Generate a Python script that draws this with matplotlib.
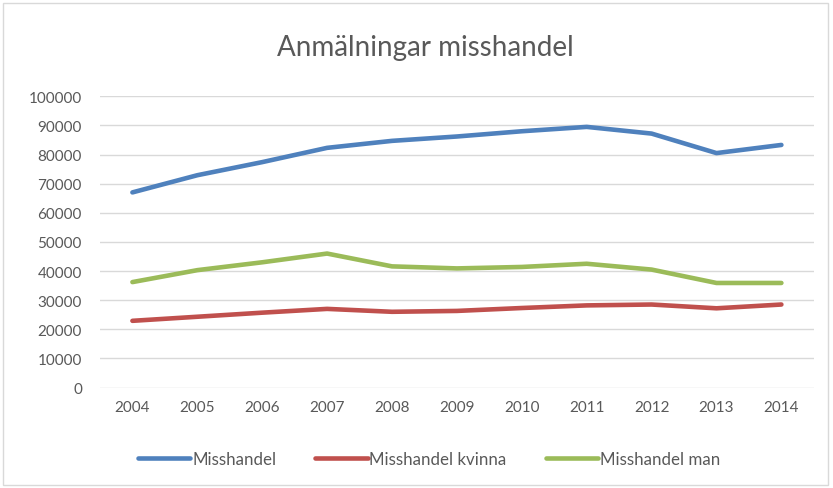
import matplotlib
matplotlib.use("Agg")
import matplotlib.pyplot as plt
from matplotlib.patches import Rectangle

years = [2004, 2005, 2006, 2007, 2008, 2009, 2010, 2011, 2012, 2013, 2014]
misshandel = [67000, 72900, 77400, 82300, 84700, 86200, 88000, 89500, 87200, 80500, 83300]
kvinna = [22900, 24300, 25700, 27000, 26000, 26300, 27300, 28200, 28500, 27200, 28500]
man = [36200, 40300, 43000, 46000, 41600, 40900, 41400, 42500, 40500, 35900, 35900]
yticks = list(range(0, 100001, 10000))

plt.rcParams['font.family'] = ['Lato', 'DejaVu Sans']

fig = plt.figure(figsize=(8.33, 4.89), dpi=100)
fig.patches.append(Rectangle((0.004, 0.006), 0.990, 0.986, transform=fig.transFigure,
                             fill=False, edgecolor='#D9D9D9', linewidth=1))
ax = fig.add_axes([0.12, 0.2055, 0.857, 0.5955])

lw = 3.3
ax.plot(years, misshandel, color='#4F81BD', lw=lw, solid_capstyle='round', label='Misshandel')
ax.plot(years, kvinna, color='#C0504D', lw=lw, solid_capstyle='round', label='Misshandel kvinna')
ax.plot(years, man, color='#9BBB59', lw=lw, solid_capstyle='round', label='Misshandel man')

ax.set_xlim(2003.5, 2014.5)
ax.set_ylim(0, 100000)
ax.set_yticks(yticks)
ax.set_yticklabels([str(v) for v in yticks])
ax.set_xticks(years)
ax.set_xticklabels([str(y) for y in years])
ax.grid(axis='y', color='#D9D9D9', linewidth=1)
ax.set_axisbelow(True)
for s in ax.spines.values():
    s.set_visible(False)
ax.tick_params(axis='both', length=0, labelsize=11, colors='#595959')
ax.tick_params(axis='y', pad=13)
ax.tick_params(axis='x', pad=9)

fig.text(0.511, 0.902, 'Anmälningar misshandel', ha='center', va='center', fontsize=20, color='#595959')

leg = fig.legend(loc='center', bbox_to_anchor=(0.515, 0.06), ncol=3, frameon=False,
                 fontsize=12.2, handlelength=3.1, columnspacing=2.3, handletextpad=0.1)
for t in leg.get_texts():
    t.set_color('#595959')

fig.savefig('out.png', dpi=100)
